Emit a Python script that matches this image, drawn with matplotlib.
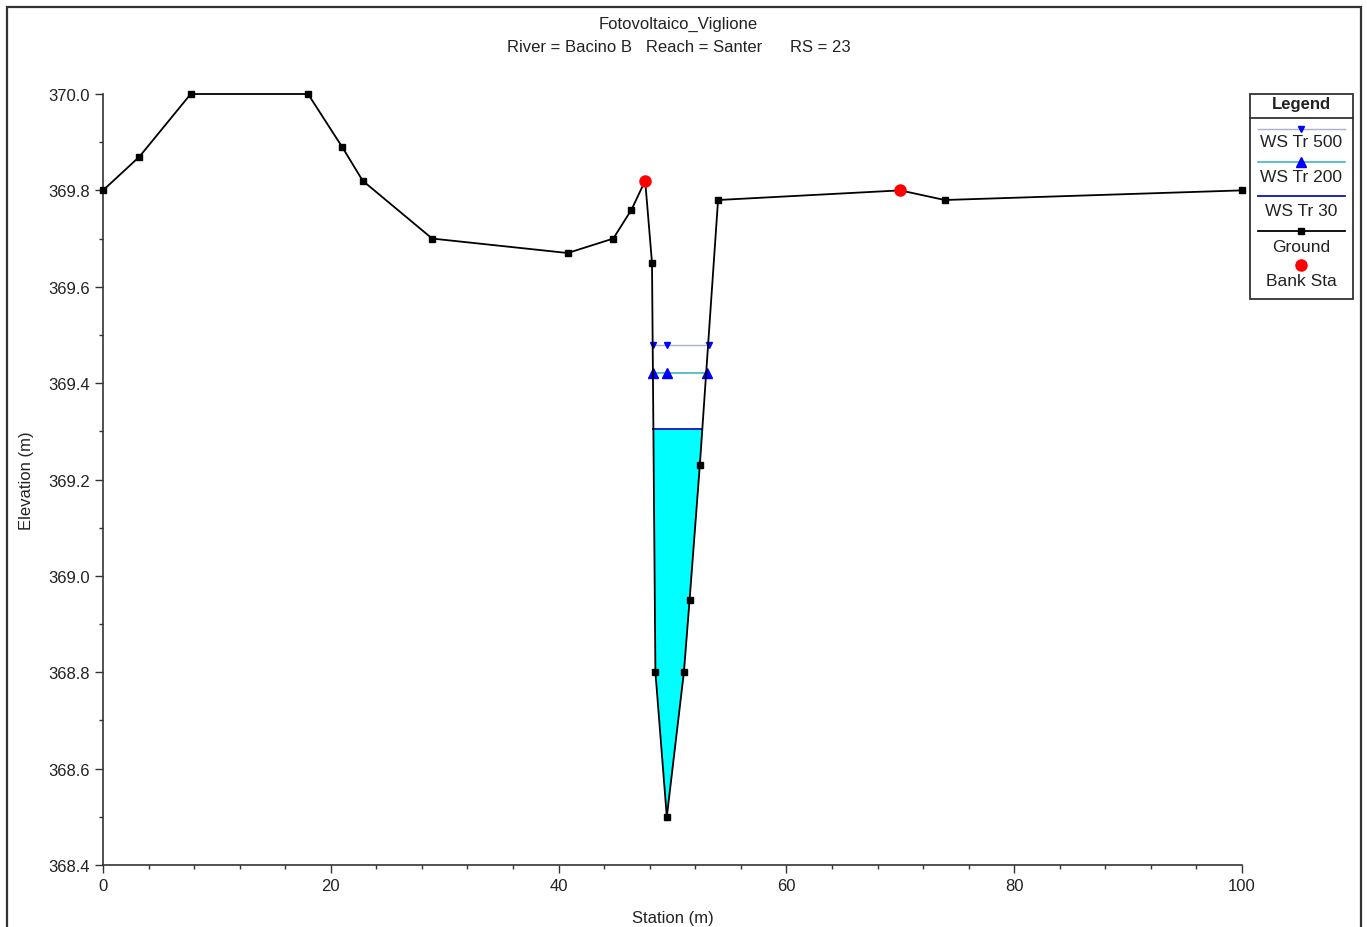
import matplotlib
matplotlib.use("Agg")
import matplotlib.pyplot as plt
import numpy as np
from matplotlib.patches import Rectangle
from matplotlib.lines import Line2D

plt.rcParams['font.family'] = ['Liberation Sans', 'DejaVu Sans']

# ---- data ----
station = [0, 3.2, 7.7, 18.0, 21.0, 22.8, 28.9, 40.8, 44.8, 46.4, 47.6, 48.2,
           48.5, 49.5, 51.0, 51.5, 52.4, 54.0, 70.0, 73.9, 100]
ground = [369.80, 369.87, 370.00, 370.00, 369.89, 369.82, 369.70, 369.67, 369.70,
          369.76, 369.82, 369.65, 368.80, 368.50, 368.80, 368.95, 369.23, 369.78,
          369.80, 369.78, 369.80]
bank_sta = [47.6, 70.0]
bank_elev = [369.82, 369.80]

ws500_x = [48.3, 49.5, 53.2]
ws500 = 369.48
ws200_x = [48.3, 49.5, 53.0]
ws200 = 369.42
ws30_x = [48.3, 52.6]
ws30 = 369.305

title1 = "Fotovoltaico_Viglione"
title2 = "River = Bacino B   Reach = Santer      RS = 23"
legend_labels = ["WS Tr 500", "WS Tr 200", "WS Tr 30", "Ground", "Bank Sta"]

W, H = 1367, 928
fig = plt.figure(figsize=(W / 100, H / 100), dpi=100)

def fx(x):
    return x / W

def fy(y):
    return 1 - y / H

ax = fig.add_axes([fx(103), fy(866), fx(1242) - fx(103), fy(95) - fy(866)])

st = np.array(station)
gr = np.array(ground)
ax.fill_between(st, gr, ws30, where=gr < ws30, interpolate=True,
                color='#00ffff', linewidth=0, zorder=1)
ax.plot(ws30_x, [ws30] * len(ws30_x), color='#1010c0', lw=1.3, zorder=3)
ax.plot(ws200_x, [ws200] * len(ws200_x), color='#30b0b0', lw=1.1, zorder=3,
        marker='^', ms=7, mfc='#0000ff', mec='#0000ff')
ax.plot(ws500_x, [ws500] * len(ws500_x), color='#a8b0cc', lw=1.0, zorder=3,
        marker='v', ms=5, mfc='#0000ff', mec='#0000ff')
ax.plot(station, ground, color='black', lw=1.3, marker='s', ms=5, zorder=4,
        clip_on=False)
ax.plot(bank_sta, bank_elev, linestyle='none', marker='o', ms=8,
        color='#ff0000', zorder=5, clip_on=False)

ax.set_xlim(0, 100)
ax.set_ylim(368.4, 370.0)
ax.set_xticks([0, 20, 40, 60, 80, 100])
ax.set_xticks(np.arange(0, 101, 4), minor=True)
ax.set_yticks(np.arange(368.4, 370.01, 0.2))
ax.set_yticks(np.arange(368.4, 370.01, 0.1), minor=True)
ax.yaxis.set_major_formatter(matplotlib.ticker.FormatStrFormatter('%.1f'))
ax.tick_params(which='major', length=6, width=1, labelsize=12, color='#333333',
               labelcolor='#222222')
ax.tick_params(which='minor', length=3, width=1, color='#333333')
for s in ['top', 'right']:
    ax.spines[s].set_visible(False)
for s in ['left', 'bottom']:
    ax.spines[s].set_color('#333333')
    ax.spines[s].set_linewidth(1.2)
ax.set_xlabel("Station (m)", fontsize=12, color='#222222')
ax.set_ylabel("Elevation (m)", fontsize=12, color='#222222')
ax.xaxis.set_label_coords(0.5, -0.058)
ax.yaxis.set_label_coords((34 - 103) / (1242 - 103), 0.5)

fig.text(fx(678), fy(24), title1, ha='center', va='center', fontsize=12, color='#222222')
fig.text(fx(679), fy(47), title2, ha='center', va='center', fontsize=12, color='#222222')

# outer frame
fig.add_artist(Rectangle((fx(7), fy(940)), fx(1361) - fx(7), fy(8) - fy(940),
                         transform=fig.transFigure, fill=False,
                         edgecolor='#333333', lw=1.6))

# legend box
lx0, lx1 = 1250, 1353
fig.add_artist(Rectangle((fx(lx0), fy(300)), fx(lx1) - fx(lx0), fy(95) - fy(300),
                         transform=fig.transFigure, fill=True, facecolor='white',
                         edgecolor='#333333', lw=1.3, zorder=10))
fig.add_artist(Line2D([fx(lx0), fx(lx1)], [fy(119), fy(119)],
                      transform=fig.transFigure, color='#333333', lw=1.3, zorder=11))
fig.text(fx(1301), fy(105), "Legend", ha='center', va='center', fontsize=12,
         fontweight='bold', zorder=12, color='#222222')
sx0, sx1, sxm = 1258, 1345, 1301
samples = [
    dict(color='#a8b0cc', lw=1.0, marker='v', ms=5, mfc='#0000ff', mec='#0000ff', y=130),
    dict(color='#30b0b0', lw=1.1, marker='^', ms=7, mfc='#0000ff', mec='#0000ff', y=163),
    dict(color='#1010c0', lw=1.3, marker=None, ms=0, mfc='none', mec='none', y=197),
    dict(color='black', lw=1.3, marker='s', ms=5, mfc='black', mec='black', y=232),
]
for s in samples:
    fig.add_artist(Line2D([fx(sx0), fx(sx1)], [fy(s['y']), fy(s['y'])],
                          transform=fig.transFigure, color=s['color'], lw=s['lw'], zorder=11))
    if s['marker']:
        fig.add_artist(Line2D([fx(sxm)], [fy(s['y'])], transform=fig.transFigure,
                              marker=s['marker'], ms=s['ms'], mfc=s['mfc'], mec=s['mec'],
                              linestyle='none', zorder=12))
fig.add_artist(Line2D([fx(sxm)], [fy(266)], transform=fig.transFigure, marker='o',
                      ms=8, color='#ff0000', linestyle='none', zorder=12))
for lab, yy in zip(legend_labels, [143, 178, 212, 247, 281]):
    fig.text(fx(sxm), fy(yy), lab, ha='center', va='center', fontsize=12.5, zorder=12,
             color='#222222')

fig.savefig("out.png", dpi=100)
